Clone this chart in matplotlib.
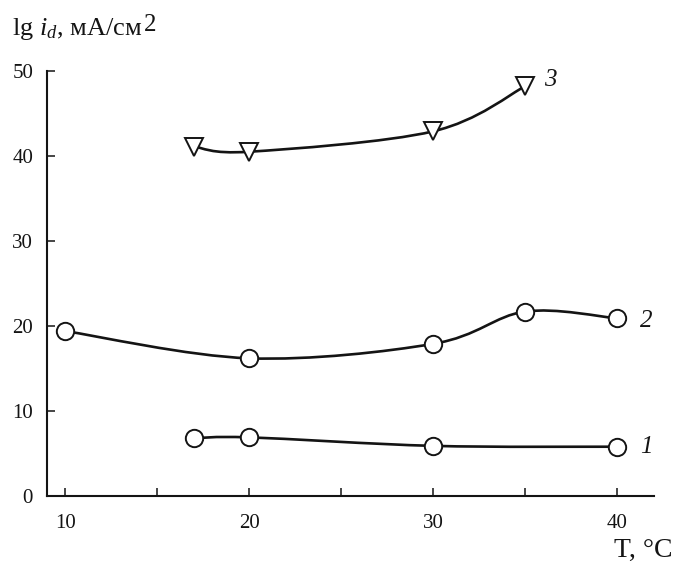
import numpy as np
import matplotlib
matplotlib.use("Agg")
import matplotlib.pyplot as plt
from matplotlib.path import Path
from matplotlib.patches import PathPatch
from matplotlib.transforms import offset_copy

plt.rcParams['font.family'] = ['Liberation Serif', 'DejaVu Serif']
plt.rcParams['mathtext.fontset'] = 'custom'
plt.rcParams['mathtext.rm'] = 'Liberation Serif'
plt.rcParams['mathtext.it'] = 'Liberation Serif:italic'

# current density vs temperature, three curves
t1 = [17, 20, 30, 40]
i1 = [6.8, 6.9, 5.9, 5.8]

t2 = [10, 20, 30, 35, 40]
i2 = [19.4, 16.2, 17.9, 21.7, 20.9]

t3 = [17, 20, 30, 35]
i3 = [41.1, 40.5, 42.9, 48.2]

curve_labels = ['1', '2', '3']
xticks = [10, 15, 20, 25, 30, 35, 40]
xticklabels = ['10', '', '20', '', '30', '', '40']
yticks = [0, 10, 20, 30, 40, 50]

ink = '#141414'


def smooth_path(x, y, tension=1.0 / 6):
    # catmull-rom through the points, drawn as cubic bezier segments
    pts = np.column_stack([x, y]).astype(float)
    n = len(pts)
    verts = [pts[0]]
    codes = [Path.MOVETO]
    for k in range(n - 1):
        p0 = pts[k - 1] if k > 0 else pts[k]
        p1 = pts[k]
        p2 = pts[k + 1]
        p3 = pts[k + 2] if k + 2 < n else pts[k + 1]
        c1 = p1 + (p2 - p0) * tension
        c2 = p2 - (p3 - p1) * tension
        verts += [c1, c2, p2]
        codes += [Path.CURVE4] * 3
    return Path(verts, codes)


fig = plt.figure(figsize=(6.75, 5.62), dpi=100)
ax = fig.add_axes([0.0696, 0.1174, 0.899, 0.7563])

for tx, iy, mk in [(t1, i1, 'o'), (t2, i2, 'o'), (t3, i3, 'v')]:
    ax.add_patch(PathPatch(smooth_path(tx, iy), facecolor='none',
                           edgecolor=ink, lw=1.9, zorder=2))
    ax.plot(tx, iy, linestyle='none', marker=mk,
            markersize=12.5 if mk == 'o' else 13,
            markerfacecolor='white', markeredgecolor=ink,
            markeredgewidth=1.4, zorder=3)

label_pos = [(41.6, 5.8), (41.6, 20.6), (36.35, 48.9)]
for lab, (lx, ly) in zip(curve_labels, label_pos):
    ax.text(lx, ly, lab, fontsize=18, style='italic', ha='center',
            va='center', color=ink)

ax.set_xlim(9.0, 42.0)
ax.set_ylim(0, 50)
ax.set_xticks(xticks)
ax.set_xticklabels(xticklabels)
ax.set_yticks(yticks)
ax.tick_params(direction='in', length=6, width=1.1, labelsize=15,
               colors=ink)
ax.tick_params(axis='x', pad=13)
ax.tick_params(axis='y', pad=10)
for s in ['top', 'right']:
    ax.spines[s].set_visible(False)
for s in ['left', 'bottom']:
    ax.spines[s].set_linewidth(1.5)
    ax.spines[s].set_color(ink)

# y axis title with a raised "2"
ylab = fig.text(0.018, 0.938, r'lg $i_d$, мА/см', fontsize=19,
                color=ink, ha='left', va='baseline')
fig.canvas.draw()
bb = ylab.get_window_extent()
fig.text(bb.x1 / fig.bbox.width, 0.938, '2', fontsize=18, color=ink,
         ha='left', va='baseline',
         transform=offset_copy(fig.transFigure, fig=fig, x=1, y=2.5,
                               units='points'))

fig.text(0.996, 0.009, 'T, °C', fontsize=20, color=ink,
         ha='right', va='baseline')

fig.savefig('out.png', dpi=100)
